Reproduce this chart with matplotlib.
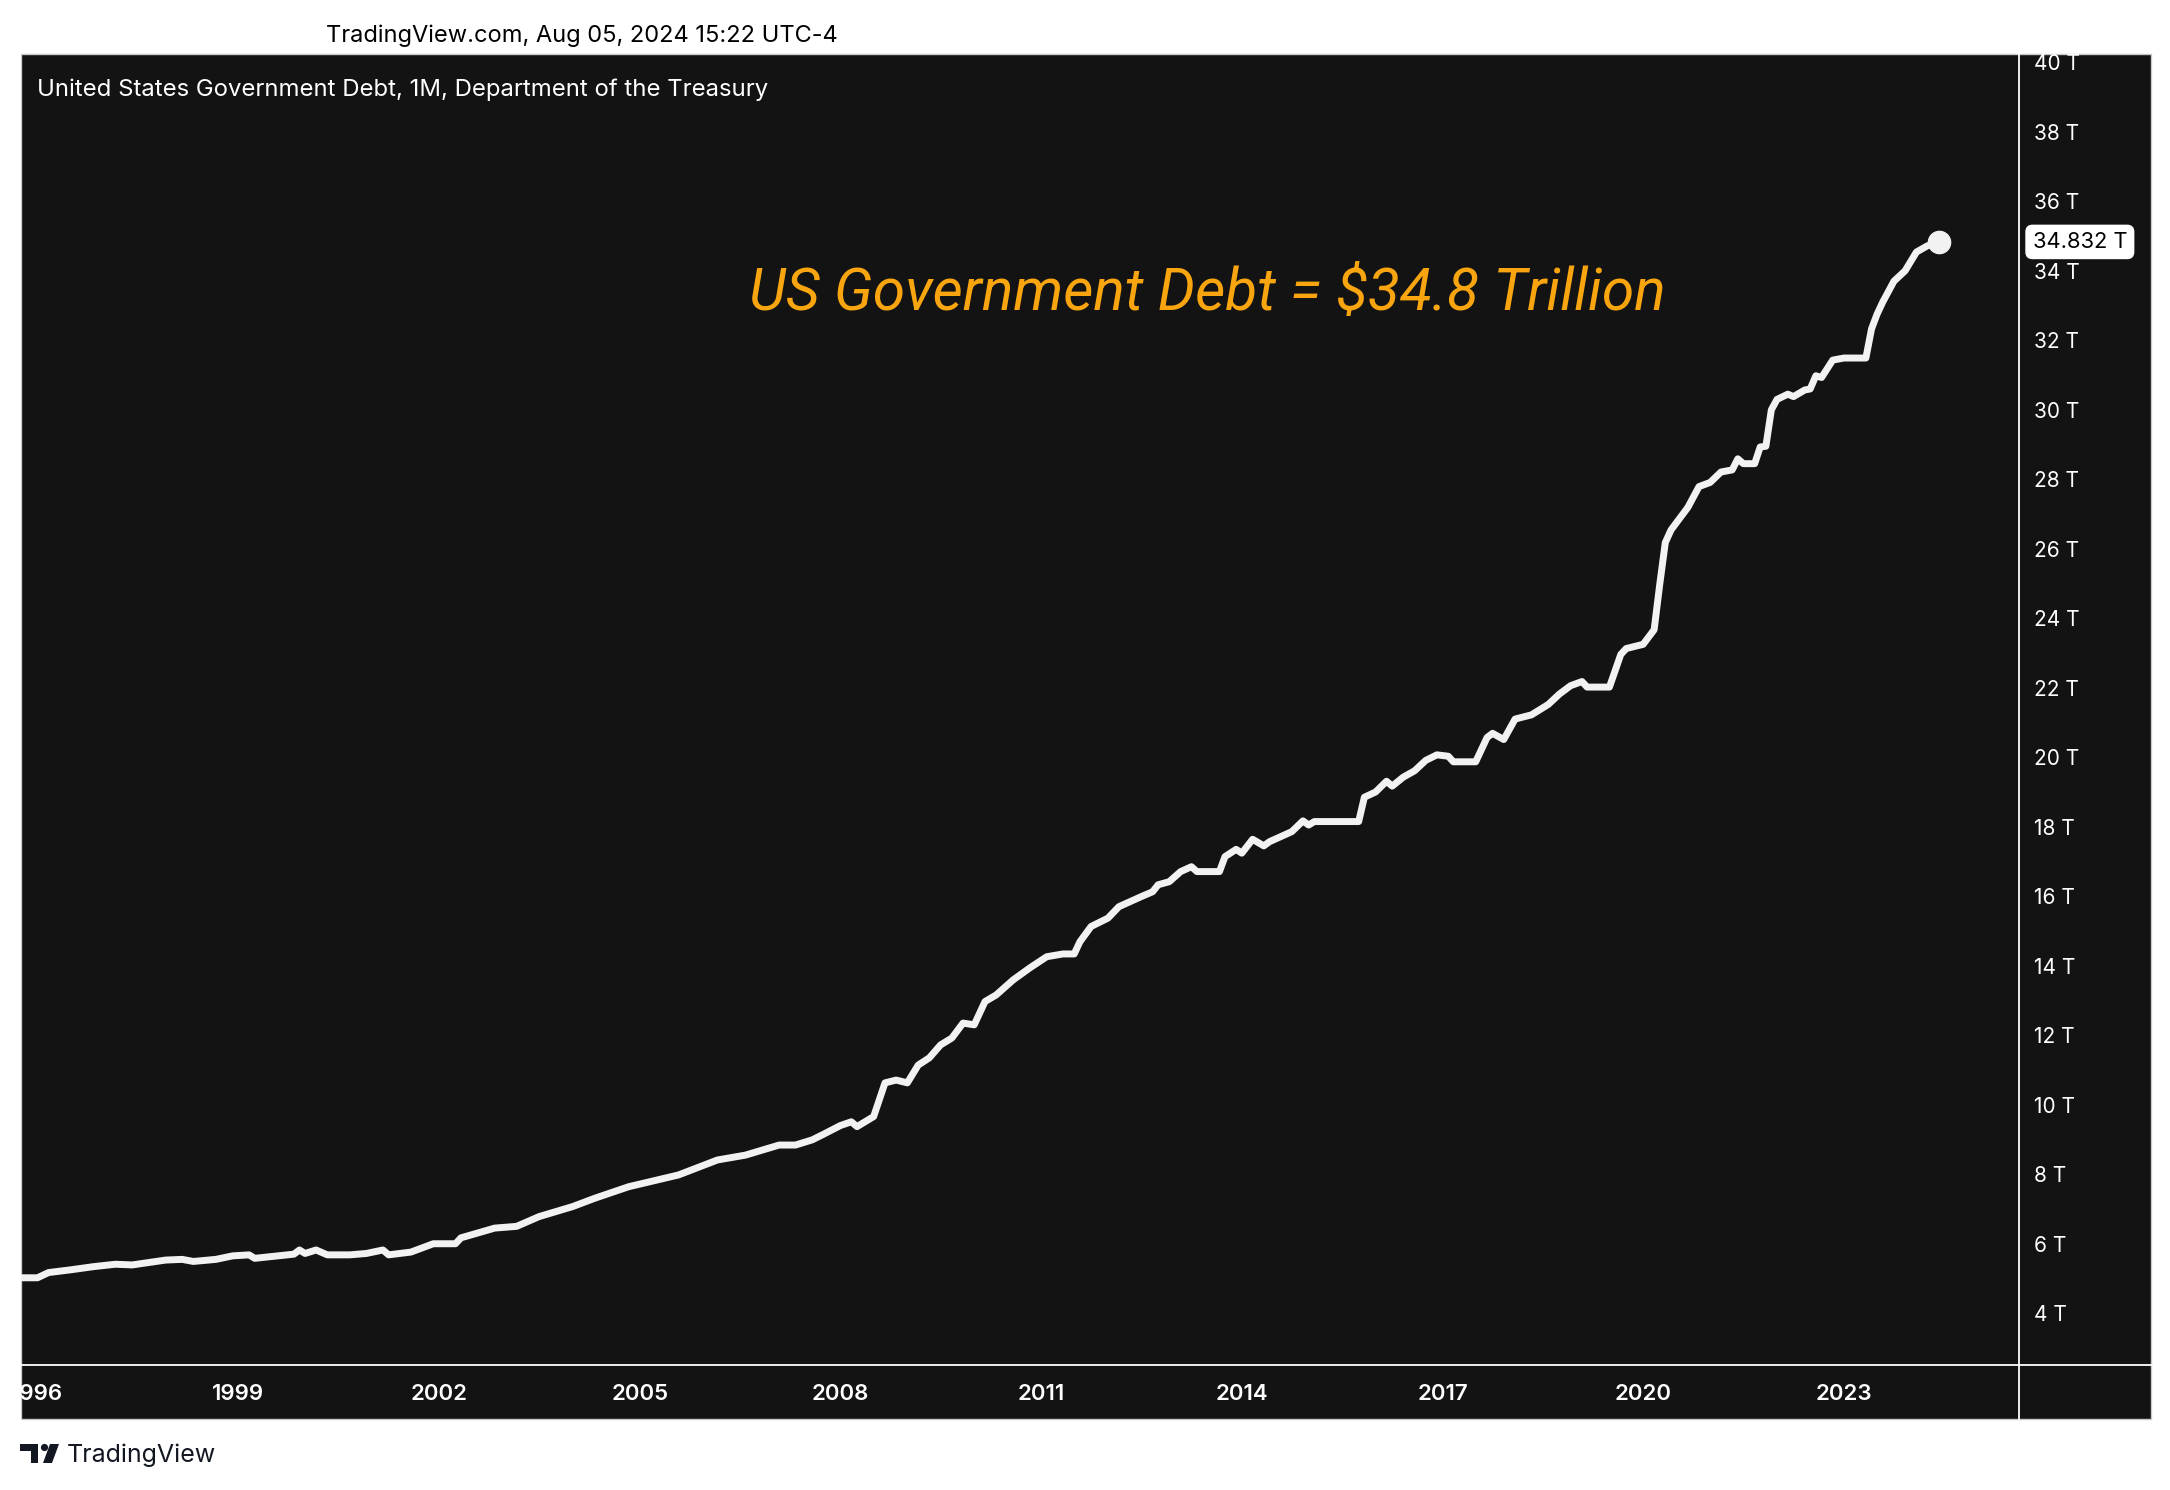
import pandas as pd
import matplotlib.pyplot as plt
from matplotlib.patches import Rectangle, Circle, Polygon

# month of reading -> debt in trillions
months = [
    "1995-10", "1996-01", "1996-03", "1996-07", "1996-11", "1997-03", "1997-06",
    "1997-12", "1998-03", "1998-05", "1998-09", "1998-12", "1999-03", "1999-04",
    "1999-08", "1999-11", "1999-12", "2000-01", "2000-03", "2000-05", "2000-09",
    "2000-12", "2001-03", "2001-04", "2001-08", "2001-12", "2002-04", "2002-05",
    "2002-11", "2003-03", "2003-07", "2004-01", "2004-05", "2004-11", "2005-03",
    "2005-08", "2006-03", "2006-08", "2007-02", "2007-05", "2007-08", "2007-10",
    "2008-01", "2008-03", "2008-04", "2008-07", "2008-09", "2008-11", "2009-01",
    "2009-03", "2009-05", "2009-07", "2009-09", "2009-11", "2010-01", "2010-03",
    "2010-05", "2010-08", "2010-11", "2011-02", "2011-05", "2011-07", "2011-08",
    "2011-10", "2012-01", "2012-03", "2012-07", "2012-09", "2012-10", "2012-12",
    "2013-02", "2013-04", "2013-05", "2013-09", "2013-10", "2013-12", "2014-01",
    "2014-03", "2014-05", "2014-06", "2014-10", "2014-12", "2015-01", "2015-02",
    "2015-10", "2015-11", "2016-01", "2016-03", "2016-04", "2016-06", "2016-08",
    "2016-10", "2016-12", "2017-02", "2017-03", "2017-07", "2017-09", "2017-10",
    "2017-12", "2018-02", "2018-05", "2018-08", "2018-10", "2018-12", "2019-02",
    "2019-03", "2019-07", "2019-09", "2019-10", "2020-01", "2020-03", "2020-04",
    "2020-05", "2020-06", "2020-09", "2020-11", "2021-01", "2021-03", "2021-05",
    "2021-06", "2021-07", "2021-09", "2021-10", "2021-11", "2021-12", "2022-01",
    "2022-03", "2022-04", "2022-06", "2022-07", "2022-08", "2022-09", "2022-11",
    "2023-01", "2023-05", "2023-06", "2023-07", "2023-08", "2023-10", "2023-12",
    "2024-02", "2024-04", "2024-06",
]
debt = [
    5.02, 5.02, 5.17, 5.25, 5.34, 5.41, 5.39,
    5.53, 5.55, 5.49, 5.55, 5.65, 5.68, 5.58,
    5.65, 5.70, 5.82, 5.72, 5.82, 5.68, 5.68,
    5.72, 5.82, 5.68, 5.76, 6.00, 6.00, 6.17,
    6.45, 6.50, 6.78, 7.07, 7.31, 7.64, 7.79,
    7.98, 8.41, 8.55, 8.84, 8.84, 8.99, 9.15,
    9.40, 9.51, 9.37, 9.66, 10.63, 10.71, 10.63,
    11.14, 11.35, 11.72, 11.92, 12.35, 12.30, 12.97,
    13.16, 13.59, 13.94, 14.26, 14.34, 14.34, 14.69,
    15.13, 15.37, 15.70, 15.99, 16.13, 16.33, 16.42,
    16.71, 16.85, 16.71, 16.71, 17.14, 17.35, 17.24,
    17.64, 17.45, 17.57, 17.86, 18.17, 18.05, 18.15,
    18.15, 18.85, 19.00, 19.31, 19.17, 19.43, 19.61,
    19.91, 20.07, 20.03, 19.87, 19.87, 20.57, 20.69,
    20.51, 21.10, 21.22, 21.52, 21.82, 22.06, 22.18,
    22.02, 22.02, 22.96, 23.13, 23.25, 23.67, 24.99,
    26.18, 26.54, 27.19, 27.79, 27.91, 28.21, 28.27,
    28.59, 28.45, 28.45, 28.93, 28.95, 30.00, 30.30,
    30.45, 30.38, 30.57, 30.60, 30.98, 30.93, 31.43,
    31.49, 31.49, 32.33, 32.75, 33.10, 33.70, 34.00,
    34.54, 34.72, 34.832,
]
year_ticks = [1996, 1999, 2002, 2005, 2008, 2011, 2014, 2017, 2020, 2023]
price_ticks = list(range(4, 41, 2))

dates = pd.to_datetime(months)

BG = "#131313"
FG = "#f2f2f2"
W, H = 2170, 1490

plt.rcParams["font.family"] = ["Inter", "DejaVu Sans"]

fig = plt.figure(figsize=(W / 100, H / 100), dpi=100)
fig.patch.set_facecolor("white")

# pixel-space helper axes: one behind the chart, one on top
bg = fig.add_axes([0, 0, 1, 1], zorder=-1)
bg.set_xlim(0, W)
bg.set_ylim(H, 0)
bg.axis("off")
bg.add_patch(Rectangle((21, 54), 2151 - 21, 1419 - 54, facecolor=BG,
                       edgecolor="#c8c8c8", lw=1))
bg.plot([2019, 2019], [54, 1419], color="white", lw=1.3)
bg.plot([21, 2151], [1365, 1365], color="white", lw=1.3)

ax = fig.add_axes([21 / W, 125 / H, (2019 - 21) / W, (1436 - 125) / H], zorder=1)
ax.set_facecolor("none")
for s in ax.spines.values():
    s.set_visible(False)

ax.plot(dates, debt, color=FG, lw=5, solid_joinstyle="round",
        solid_capstyle="round")
ax.plot(dates[-1], debt[-1], "o", color=FG, ms=16)

ax.set_xlim(pd.Timestamp("1995-10-03"), pd.Timestamp("2025-08-14"))
ax.set_ylim(2.51, 40.24)

ax.set_xticks(pd.to_datetime([f"{y}-01-01" for y in year_ticks]))
ax.set_xticklabels([str(y) for y in year_ticks], fontsize=16,
                   fontweight="semibold", color="white")
ax.yaxis.tick_right()
ax.set_yticks(price_ticks)
ax.set_yticklabels([f"{v} T" for v in price_ticks], fontsize=15,
                   color="white")
ax.tick_params(axis="both", length=0)
ax.tick_params(axis="x", pad=14)
ax.tick_params(axis="y", pad=11)

# last value tag on the price scale
ax.annotate(f"{debt[-1]:.3f} T", xy=(1.0068, debt[-1]),
            xycoords=("axes fraction", "data"), fontsize=15.8, color="black",
            ha="left", va="center",
            bbox=dict(boxstyle="round,pad=0.3,rounding_size=0.3",
                      facecolor="white", edgecolor="white"))

ov = fig.add_axes([0, 0, 1, 1], zorder=2)
ov.set_xlim(0, W)
ov.set_ylim(H, 0)
ov.axis("off")
ov.patch.set_alpha(0)
ov.add_patch(Rectangle((0, 50), 20.5, 1375, facecolor="white", edgecolor="none"))

ov.text(582, 36, "TradingView.com, Aug 05, 2024 15:22 UTC-4", fontsize=17,
        color="black", ha="center", va="center")
ov.text(37, 90, "United States Government Debt, 1M, Department of the Treasury",
        fontsize=17.2, color="white", ha="left", va="center")
ov.text(749, 294, "US Government Debt = $34.8 Trillion", fontsize=42.2,
        color="#f9a50f", style="italic", family=["Roboto", "DejaVu Sans"],
        ha="left", va="center")

# TradingView logo
logo = "#131722"
ov.add_patch(Rectangle((20, 1444), 18, 7, facecolor=logo, edgecolor="none"))
ov.add_patch(Rectangle((30.5, 1444), 7.5, 19, facecolor=logo, edgecolor="none"))
ov.add_patch(Circle((44.5, 1447.5), 3.6, facecolor=logo, edgecolor="none"))
ov.add_patch(Polygon([(50, 1444), (59, 1444), (52, 1463), (43, 1463)],
                     facecolor=logo, edgecolor="none"))
ov.text(67, 1455, "TradingView", fontsize=18, color=logo, ha="left",
        va="center")

fig.savefig("out.png", dpi=100, facecolor="white")
